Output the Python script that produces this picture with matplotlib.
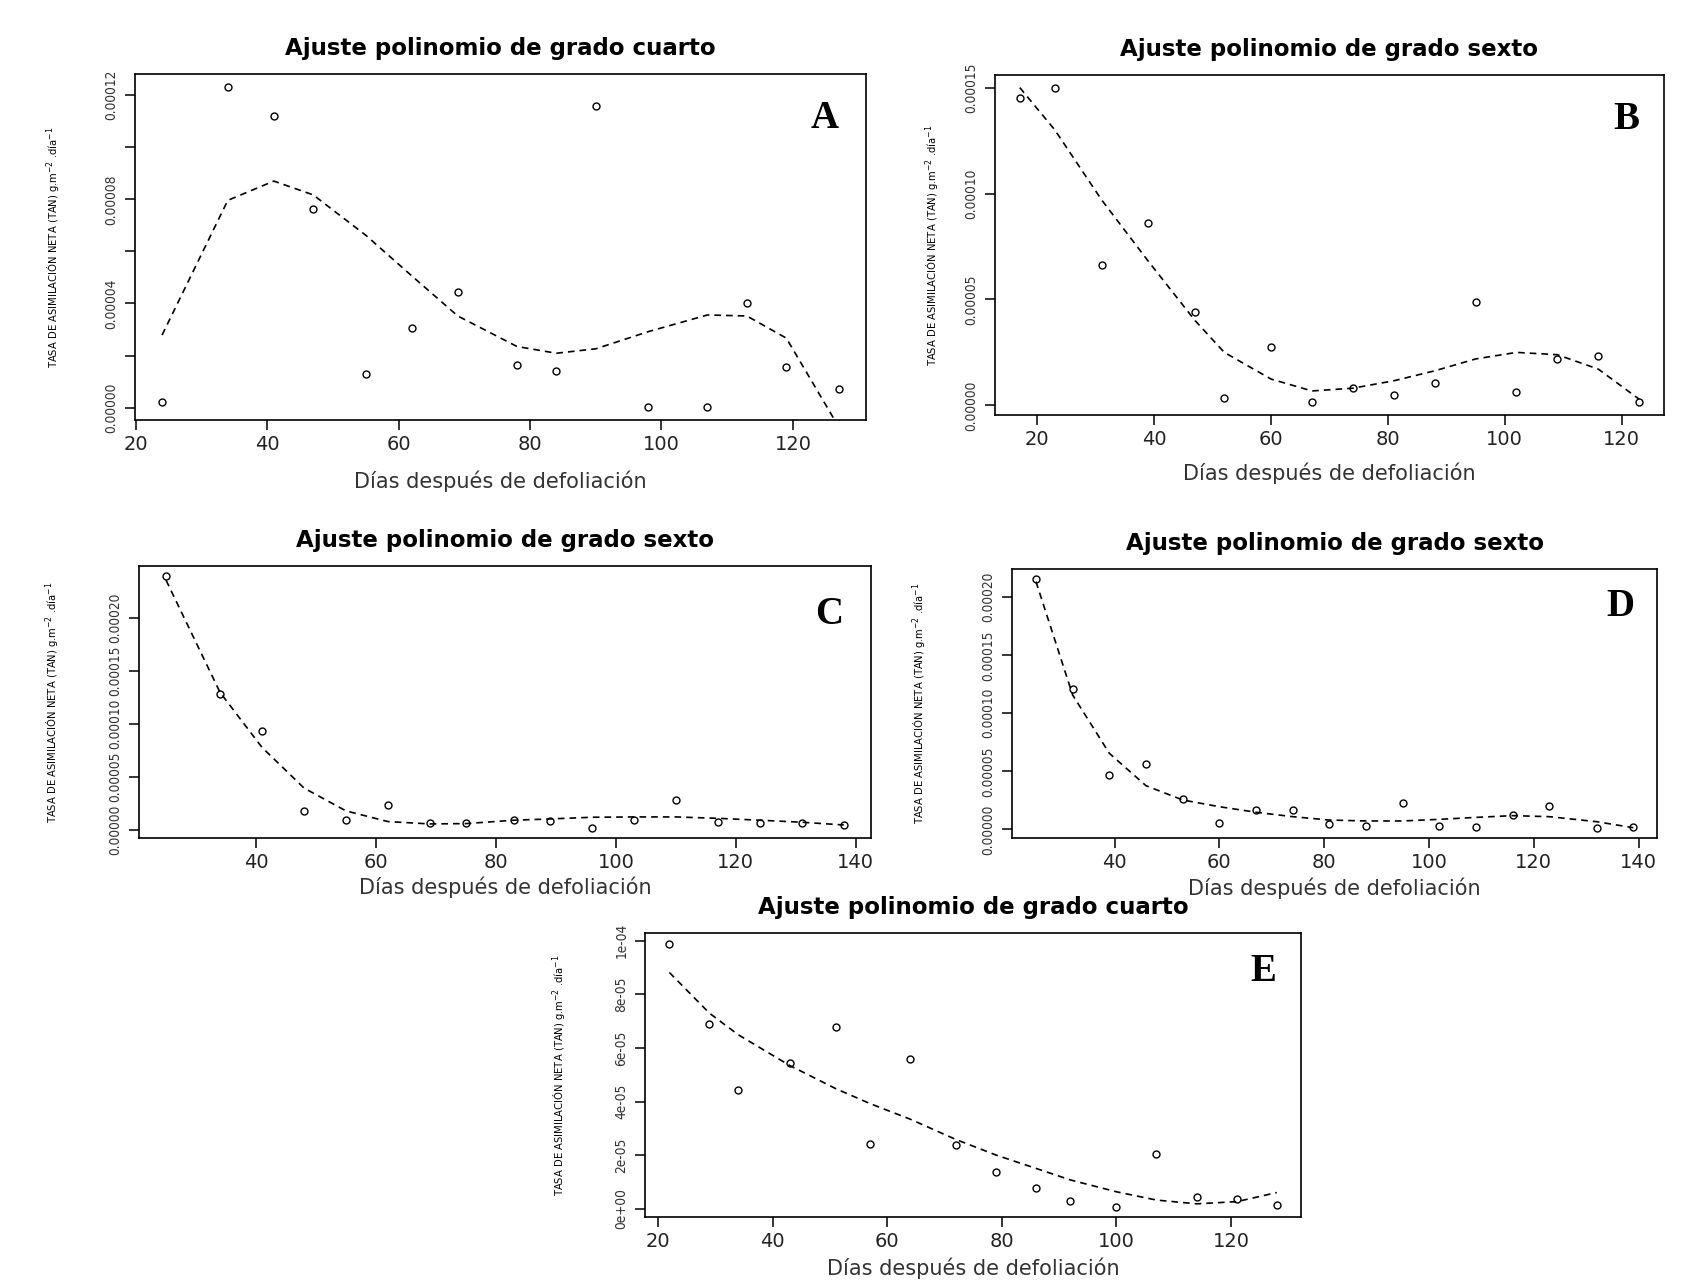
import matplotlib
matplotlib.use("Agg")
import matplotlib.pyplot as plt
from matplotlib import font_manager
from matplotlib.ticker import FixedLocator, FuncFormatter

plt.rcParams['font.family'] = ['DejaVu Sans']

# --- datos ---------------------------------------------------------------
# A: ajuste grado cuarto
a_dias = [24, 34, 41, 47, 55, 62, 69, 78, 84, 90, 98, 107, 113, 119, 127]
a_tan = [2.3e-6, 1.232e-4, 1.121e-4, 7.61e-5, 1.29e-5, 3.04e-5, 4.45e-5, 1.62e-5,
         1.41e-5, 1.158e-4, 0.2e-6, 0.2e-6, 4.03e-5, 1.57e-5, 7.2e-6]
a_ajuste = [2.79e-5, 7.96e-5, 8.70e-5, 8.17e-5, 6.62e-5, 5.06e-5, 3.52e-5, 2.35e-5,
            2.09e-5, 2.26e-5, 2.92e-5, 3.56e-5, 3.52e-5, 2.67e-5, -7.5e-6]

# B: ajuste grado sexto
b_dias = [17, 23, 31, 39, 47, 52, 60, 67, 74, 81, 88, 95, 102, 109, 116, 123]
b_tan = [1.449e-4, 1.50e-4, 6.64e-5, 8.63e-5, 4.39e-5, 3.6e-6, 2.77e-5, 1.7e-6,
         8.2e-6, 5.1e-6, 1.06e-5, 4.88e-5, 6.5e-6, 2.17e-5, 2.31e-5, 1.4e-6]
b_ajuste = [1.50e-4, 1.30e-4, 9.7e-5, 6.8e-5, 4.0e-5, 2.5e-5, 1.24e-5, 6.8e-6,
            8.1e-6, 1.16e-5, 1.63e-5, 2.19e-5, 2.5e-5, 2.39e-5, 1.71e-5, 2.9e-6]

# C: ajuste grado sexto
c_dias = [25, 34, 41, 48, 55, 62, 69, 75, 83, 89, 96, 103, 110, 117, 124, 131, 138]
c_tan = [2.399e-4, 1.282e-4, 9.34e-5, 1.80e-5, 9.2e-6, 2.34e-5, 7.0e-6, 7.0e-6,
         9.2e-6, 8.5e-6, 1.9e-6, 9.5e-6, 2.85e-5, 7.9e-6, 6.3e-6, 7.0e-6, 4.7e-6]
c_ajuste = [2.36e-4, 1.30e-4, 7.8e-5, 3.96e-5, 1.8e-5, 7.9e-6, 5.7e-6, 6.0e-6,
            9.2e-6, 1.04e-5, 1.2e-5, 1.23e-5, 1.23e-5, 1.1e-5, 9.2e-6, 7.3e-6, 4.7e-6]

# D: ajuste grado sexto
d_dias = [25, 32, 39, 46, 53, 60, 67, 74, 81, 88, 95, 102, 109, 116, 123, 132, 139]
d_tan = [2.158e-4, 1.213e-4, 4.71e-5, 5.63e-5, 2.64e-5, 5.7e-6, 1.64e-5, 1.64e-5,
         4.6e-6, 3.2e-6, 2.27e-5, 3.2e-6, 2.3e-6, 1.26e-5, 1.98e-5, 1.1e-6, 2.0e-6]
d_ajuste = [2.135e-4, 1.158e-4, 6.55e-5, 3.76e-5, 2.53e-5, 1.95e-5, 1.47e-5, 1.09e-5,
            8.0e-6, 7.2e-6, 7.2e-6, 8.6e-6, 1.03e-5, 1.18e-5, 1.09e-5, 6.6e-6, 1.4e-6]

# E: ajuste grado cuarto
e_dias = [22, 29, 34, 43, 51, 57, 64, 72, 79, 86, 92, 100, 107, 114, 121, 128]
e_tan = [9.90e-5, 6.91e-5, 4.45e-5, 5.45e-5, 6.77e-5, 2.44e-5, 5.58e-5, 2.40e-5,
         1.36e-5, 7.9e-6, 3.0e-6, 0.9e-6, 2.04e-5, 4.5e-6, 3.6e-6, 1.5e-6]
e_ajuste = [8.82e-5, 7.3e-5, 6.5e-5, 5.35e-5, 4.49e-5, 3.93e-5, 3.35e-5, 2.59e-5,
            2.01e-5, 1.51e-5, 1.08e-5, 6.4e-6, 3.3e-6, 1.9e-6, 2.7e-6, 6.1e-6]

titulo4 = "Ajuste polinomio de grado cuarto"
titulo6 = "Ajuste polinomio de grado sexto"
xlab = "Días después de defoliación"
ylab = r"TASA DE ASIMILACIÓN NETA (TAN) g.m$^{-2}$ .día$^{-1}$"

# fuente estrecha para los textos verticales
nombres = {f.name for f in font_manager.fontManager.ttflist}
if 'Liberation Sans Narrow' in nombres:
    narrow = dict(family=['Liberation Sans Narrow', 'DejaVu Sans'])
else:
    narrow = dict(family=['DejaVu Sans'], stretch='condensed')

fig = plt.figure(figsize=(17.07, 12.80), dpi=100)


def panel(rect, dias, tan, ajuste, titulo, letra, letra_y, xticks, yticks, ylabels,
          xlab_off, ylab_off):
    ax = fig.add_axes(rect)
    ax.plot(dias, tan, 'o', mfc='none', mec='black', ms=5, mew=1.0)
    ax.plot(dias, ajuste, color='black', lw=1.2, ls=(0, (4, 3)))
    # rango estilo R: 4% extra a cada lado
    xr = max(dias) - min(dias)
    yr = max(tan) - min(tan)
    ax.set_xlim(min(dias) - 0.04 * xr, max(dias) + 0.04 * xr)
    ax.set_ylim(min(tan) - 0.04 * yr, max(tan) + 0.04 * yr)
    ax.xaxis.set_major_locator(FixedLocator(xticks))
    ax.yaxis.set_major_locator(FixedLocator(yticks))
    ax.yaxis.set_major_formatter(FuncFormatter(lambda v, p: ylabels[p] if p is not None and p < len(ylabels) else ''))
    ax.tick_params(direction='out', length=7, width=1.1, colors='black', labelsize=14)
    ax.tick_params(axis='x', pad=4)
    ax.tick_params(axis='y', pad=5)
    for lab in ax.get_yticklabels():
        lab.set_rotation(90)
        lab.set_va('center')
        lab.set_fontsize(9.8)
        lab.set_color('#333333')
        lab.set_fontfamily(narrow['family'])
        if 'stretch' in narrow:
            lab.set_fontstretch(narrow['stretch'])
    for lab in ax.get_xticklabels():
        lab.set_color('#222222')
    for s in ax.spines.values():
        s.set_linewidth(1.2)
    ax.set_title(titulo, fontsize=16.5, fontweight='bold', pad=14)
    ax.set_xlabel(xlab, fontsize=15, color='#333333')
    ax.set_ylabel(ylab, fontsize=8, **narrow)
    hpx = rect[3] * 1280
    wpx = rect[2] * 1707
    ax.xaxis.set_label_coords(0.5, -xlab_off / hpx)
    ax.yaxis.set_label_coords(-ylab_off / wpx, 0.5)
    ax.text(0.943, letra_y, letra, transform=ax.transAxes, ha='center', va='center',
            fontsize=28, fontweight='bold', family=['Liberation Serif', 'DejaVu Serif'])
    return ax


lab5 = lambda vals: ["%.5f" % v for v in vals]

ya = [0, 2e-5, 4e-5, 6e-5, 8e-5, 1e-4, 1.2e-4]
panel([0.0791, 0.6719, 0.4282, 0.2703], a_dias, a_tan, a_ajuste, titulo4, "A", 0.87,
      [20, 40, 60, 80, 100, 120], ya,
      ["0.00000", "", "0.00004", "", "0.00008", "", "0.00012"], 51, 72)

yb = [0, 5e-5, 1e-4, 1.5e-4]
panel([0.5829, 0.6758, 0.3919, 0.2656], b_dias, b_tan, b_ajuste, titulo6, "B", 0.87,
      [20, 40, 60, 80, 100, 120], yb, lab5(yb), 48, 53)

yc = [0, 5e-5, 1e-4, 1.5e-4, 2e-4]
panel([0.0814, 0.3453, 0.4288, 0.2125], c_dias, c_tan, c_ajuste, titulo6, "C", 0.82,
      [40, 60, 80, 100, 120, 140], yc, lab5(yc), 38, 77)

panel([0.5929, 0.3453, 0.3779, 0.2102], d_dias, d_tan, d_ajuste, titulo6, "D", 0.86,
      [40, 60, 80, 100, 120, 140], yc, lab5(yc), 39, 83)

ye = [0, 2e-5, 4e-5, 6e-5, 8e-5, 1e-4]
panel([0.3779, 0.0492, 0.3843, 0.2219], e_dias, e_tan, e_ajuste, titulo4, "E", 0.865,
      [20, 40, 60, 80, 100, 120], ye, ["%.0e" % v for v in ye], 40, 76)

fig.savefig("out.png", dpi=100)
